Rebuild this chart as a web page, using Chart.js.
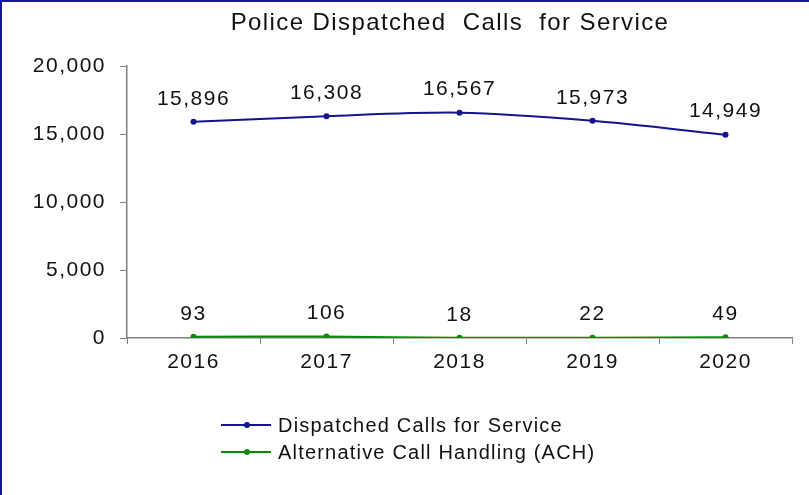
<!DOCTYPE html>
<html>
<head>
<meta charset="utf-8">
<script src="https://cdn.jsdelivr.net/npm/chart.js@4.4.1/dist/chart.umd.min.js"></script>
<style>
  body { margin: 0; background: #fff; }
  #wrap { position: relative; width: 809px; height: 495px; overflow: hidden; }
  #wrap canvas { position: absolute; left: 0; top: 0; }
  .edge { position: absolute; background: #1414a0; }
  #title { position: absolute; left: 91px; top: 8px; width: 718px; text-align: center; white-space: pre;
           font-family: "Liberation Sans", Arial, sans-serif; font-size: 24px; letter-spacing: 1.4px; color: #111; }
  #legend { position: absolute; left: 221px; top: 412px; font-family: "Liberation Sans", Arial, sans-serif;
            font-size: 20px; letter-spacing: 1.2px; color: #111; }
  .item { position: relative; height: 27px; line-height: 26px; padding-left: 57px; white-space: nowrap; }
  .item .ln { position: absolute; left: 0; top: 12px; width: 50px; height: 2px; }
  .item .dot { position: absolute; left: 23px; top: 10px; width: 6px; height: 6px; border-radius: 50%; }
</style>
</head>
<body>
<div id="wrap">
  <canvas id="callsChart" width="809" height="495"></canvas>
  <div class="edge" style="left:0;top:0;width:809px;height:2px"></div>
  <div class="edge" style="left:0;top:0;width:2px;height:495px"></div>
  <div id="title">Police Dispatched  Calls  for Service</div>
  <div id="legend"></div>
</div>
<script>
const years = ['2016', '2017', '2018', '2019', '2020'];
const dispatchedCalls = [15896, 16308, 16567, 15973, 14949];
const achCalls = [93, 106, 18, 22, 49];
const yTicks = [0, 5000, 10000, 15000, 20000];

const FONT = '"Liberation Sans", Arial, sans-serif';

// draws the value above each point
const pointLabels = {
    id: 'pointLabels',
    beforeDraw(chart) {
        chart.ctx.letterSpacing = '1.5px';
    },
    afterDatasetsDraw(chart) {
        const ctx = chart.ctx;
        ctx.save();
        ctx.font = '21px ' + FONT;
        ctx.fillStyle = '#111';
        ctx.textAlign = 'center';
        ctx.textBaseline = 'middle';
        chart.data.datasets.forEach(function(ds, i) {
            chart.getDatasetMeta(i).data.forEach(function(pt, j) {
                ctx.fillText(ds.data[j].toLocaleString('en-US'), pt.x, pt.y - 23);
            });
        });
        ctx.restore();
    }
};

const ctx = document.getElementById('callsChart').getContext('2d');
const chart = new Chart(ctx, {
    type: 'line',
    data: {
        labels: years,
        datasets: [{
            label: 'Dispatched Calls for Service',
            data: dispatchedCalls,
            borderColor: '#14148c',
            backgroundColor: '#14148c',
            borderWidth: 2,
            pointRadius: 3,
            pointBorderWidth: 0,
            tension: 0.3
        }, {
            label: 'Alternative Call Handling (ACH)',
            data: achCalls,
            borderColor: '#0a8a0a',
            backgroundColor: '#0a8a0a',
            borderWidth: 2,
            pointRadius: 3,
            pointBorderWidth: 0,
            tension: 0.3
        }]
    },
    options: {
        responsive: false,
        animation: false,
        layout: { padding: { left: 0, right: 17, top: 66, bottom: 0 } },
        plugins: {
            legend: { display: false },
            tooltip: { enabled: false },
            title: { display: false }
        },
        scales: {
            x: {
                offset: true,
                grid: { offset: true, drawOnChartArea: false, tickLength: 6, color: '#808080' },
                border: { color: '#808080', width: 1.5 },
                ticks: { color: '#111', padding: 6, font: { family: FONT, size: 21 } },
                afterFit(scale) { scale.height = 157; }
            },
            y: {
                min: 0,
                max: 20000,
                afterBuildTicks(scale) { scale.ticks = yTicks.map(v => ({ value: v })); },
                grid: { drawOnChartArea: false, tickLength: 7, color: '#808080' },
                border: { color: '#808080', width: 1.5 },
                ticks: {
                    color: '#111',
                    padding: 14,
                    font: { family: FONT, size: 21 },
                    callback: v => v.toLocaleString('en-US')
                },
                afterFit(scale) { scale.width = 127; }
            }
        }
    },
    plugins: [pointLabels]
});

// legend drawn as a vertical list like the original
const legend = document.getElementById('legend');
chart.data.datasets.forEach(function(ds) {
    const row = document.createElement('div');
    row.className = 'item';
    row.innerHTML = '<span class="ln" style="background:' + ds.borderColor + '"></span>' +
        '<span class="dot" style="background:' + ds.borderColor + '"></span>' + ds.label;
    legend.appendChild(row);
});
</script>
</body>
</html>
